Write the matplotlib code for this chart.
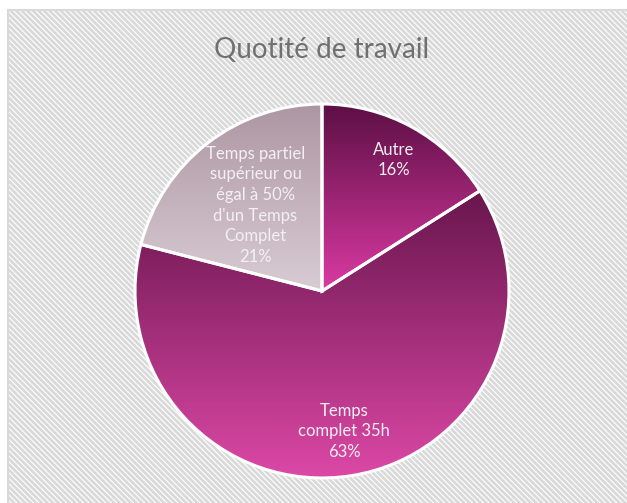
import numpy as np
import matplotlib.pyplot as plt
from matplotlib.patches import Rectangle
from matplotlib.colors import LinearSegmentedColormap

# données du graphique
categories = ["Autre", "Temps complet 35h",
              "Temps partiel supérieur ou\négal à 50%\nd'un Temps\nComplet"]
valeurs = [16, 63, 21]
etiquettes = ["Autre\n16%", "Temps\ncomplet 35h\n63%",
              "Temps partiel\nsupérieur ou\négal à 50%\nd'un Temps\nComplet\n21%"]

# dégradés (haut -> bas) pour chaque part
degrades = [("#5c0f44", "#db3aa3"),
            ("#68164d", "#dc48a6"),
            ("#ad96a3", "#d9ccd3")]
dist_etiquettes = [0.80, 0.76, 0.58]

plt.rcParams['hatch.linewidth'] = 2.0
plt.rcParams['hatch.color'] = '#ebebeb'
plt.rcParams['font.family'] = ['Lato', 'DejaVu Sans']

fig = plt.figure(figsize=(6.27, 5.03), dpi=100)

# fond hachuré avec bordure
fond = fig.add_axes([0, 0, 1, 1])
fond.set_xlim(0, 627)
fond.set_ylim(503, 0)
fond.axis('off')
fond.add_patch(Rectangle((7.5, 9.5), 640, 520, facecolor='white',
                         edgecolor='#d9d9d9', hatch='\\' * 6, linewidth=1.5))

# camembert : centre (322, 291) px, rayon 187 px
r_px = 187
m = 1.05
w = 2 * r_px * m / 627
h = 2 * r_px * m / 503
ax = fig.add_axes([322 / 627 - w / 2, (503 - 291) / 503 - h / 2, w, h])
ax.set_xlim(-m, m)
ax.set_ylim(-m, m)
ax.axis('off')

parts, _ = ax.pie(valeurs, startangle=90, counterclock=False,
                  wedgeprops=dict(edgecolor='white', linewidth=2.2))

for part, (haut, bas) in zip(parts, degrades):
    part.set_facecolor('none')
    bb = part.get_path().get_extents(part.get_patch_transform())
    cmap = LinearSegmentedColormap.from_list('g', [haut, bas])
    grad = np.linspace(0, 1, 256).reshape(-1, 1)
    im = ax.imshow(grad, cmap=cmap, aspect='auto', origin='upper',
                   extent=[bb.x0, bb.x1, bb.y0, bb.y1], zorder=0.5)
    im.set_clip_path(part)
    part.set_zorder(1)

ax.set_xlim(-m, m)
ax.set_ylim(-m, m)

for part, txt, d in zip(parts, etiquettes, dist_etiquettes):
    ang = np.deg2rad((part.theta1 + part.theta2) / 2)
    ax.text(d * np.cos(ang), d * np.sin(ang), txt, ha='center', va='center',
            color='#f4f0f2', fontsize=12, linespacing=1.35, zorder=3)

fig.text(322 / 627, 1 - 50 / 503, "Quotité de travail", ha='center', va='center',
         color='#707070', fontsize=20)

fig.savefig("out.png", dpi=100)
